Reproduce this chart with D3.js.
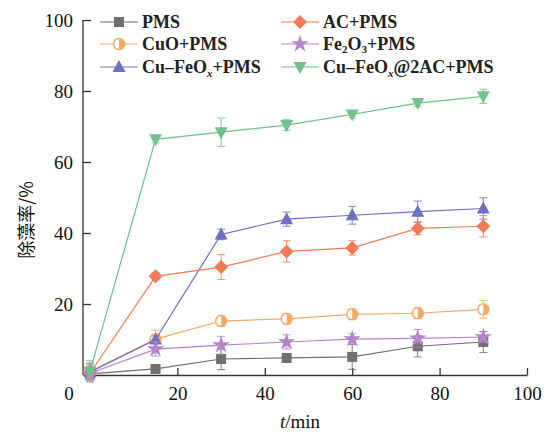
<!DOCTYPE html>
<html>
<head>
<meta charset="utf-8">
<script src="https://cdn.jsdelivr.net/npm/d3@7"></script>
<style>
  html, body { margin: 0; padding: 0; background: #fff; }
  svg { display: block; }
  .tick text { font-family: "Liberation Serif", "DejaVu Serif", serif; }
</style>
</head>
<body>
<svg id="chart" width="544" height="432"></svg>
<script>
// Sampling times (min)
const times = [0, 15, 30, 45, 60, 75, 90];

// Removal rate (%) for each system, with error bar half-widths
const pmsVals      = [0.3, 1.7, 4.5, 4.8, 5.1, 8.1, 9.3];
const pmsErr       = [1.5, 0.5, 3.0, 1.0, 3.5, 3.0, 3.0];
const acVals       = [0.5, 27.8, 30.4, 34.8, 35.8, 41.3, 41.9];
const acErr        = [1.5, 1.0, 3.5, 3.0, 2.0, 1.8, 3.0];
const cuoVals      = [1.0, 10.1, 15.2, 15.8, 17.1, 17.4, 18.5];
const cuoErr       = [2.0, 2.5, 1.5, 1.5, 1.5, 1.5, 2.5];
const fe2o3Vals    = [0.5, 7.3, 8.4, 9.3, 10.1, 10.3, 10.7];
const fe2o3Err     = [2.0, 2.0, 2.5, 2.0, 1.5, 2.5, 1.5];
const cufeVals     = [0.8, 10.0, 39.6, 43.9, 45.0, 46.0, 46.9];
const cufeErr      = [2.5, 1.0, 1.5, 2.0, 2.5, 3.0, 3.0];
const cufeAcVals   = [1.0, 66.4, 68.4, 70.4, 73.4, 76.6, 78.5];
const cufeAcErr    = [3.0, 1.0, 4.0, 1.5, 1.0, 1.0, 2.0];

const xTicks = [20, 40, 60, 80, 100];
const yTicks = [20, 40, 60, 80, 100];

const series = [
  { name: "PMS",            vals: pmsVals,    err: pmsErr,    color: "#6f6f72", marker: "square" },
  { name: "CuO+PMS",        vals: cuoVals,    err: cuoErr,    color: "#f6a962", marker: "halfcircle" },
  { name: "Cu–FeOx+PMS",    vals: cufeVals,   err: cufeErr,   color: "#6f6fc2", marker: "triangle-up" },
  { name: "AC+PMS",         vals: acVals,     err: acErr,     color: "#f27b55", marker: "diamond" },
  { name: "Fe2O3+PMS",      vals: fe2o3Vals,  err: fe2o3Err,  color: "#b584cc", marker: "star" },
  { name: "Cu–FeOx@2AC+PMS",vals: cufeAcVals, err: cufeAcErr, color: "#6fc18e", marker: "triangle-down" }
];

const svg = d3.select("#chart");
const serif = '"Liberation Serif", "DejaVu Serif", serif';

const x = d3.scaleLinear().domain([-1.6, 100]).range([83, 527]);
const y = d3.scaleLinear().domain([0, 100]).range([375, 20]);

// Axes with inward ticks
const xAxis = d3.axisBottom(x).tickValues(xTicks).tickSizeInner(-7).tickSizeOuter(0).tickPadding(12);
const yAxis = d3.axisLeft(y).tickValues(yTicks).tickSizeInner(-8).tickSizeOuter(0).tickPadding(10);

const gx = svg.append("g").attr("transform", "translate(0,375)").call(xAxis);
const gy = svg.append("g").attr("transform", "translate(83,0)").call(yAxis);
[gx, gy].forEach(g => {
  g.select(".domain").attr("stroke", "#333").attr("stroke-width", 1.3);
  g.selectAll(".tick line").attr("stroke", "#333").attr("stroke-width", 1.3);
  g.selectAll(".tick text").attr("fill", "#111").attr("font-size", 19);
});
// extend y axis line to top tick
gy.select(".domain").attr("d", `M0,${y(100)}V${y(0)}`);

// shared origin label
svg.append("text").attr("x", 69).attr("y", 400)
  .attr("text-anchor", "middle").attr("font-family", serif).attr("font-size", 19).attr("fill", "#111")
  .text("0");

// Axis titles
const xt = svg.append("text").attr("x", 300).attr("y", 428).attr("text-anchor", "middle")
  .attr("font-family", serif).attr("font-size", 19).attr("fill", "#111");
xt.append("tspan").attr("font-style", "italic").text("t");
xt.append("tspan").text("/min");

svg.append("text").attr("transform", "translate(33,220) rotate(-90)")
  .attr("text-anchor", "middle").attr("font-family", '"Noto Sans CJK SC", sans-serif')
  .attr("font-size", 18).attr("fill", "#111").text("除藻率/%");

// Marker drawing
const starPath = d3.symbol().type(d3.symbolStar).size(95)();
function drawMarker(g, type, color, cx, cy) {
  const m = g.append("g").attr("transform", `translate(${cx},${cy})`);
  if (type === "square") {
    m.append("rect").attr("x", -5).attr("y", -5).attr("width", 10).attr("height", 10).attr("fill", color);
  } else if (type === "diamond") {
    m.append("path").attr("d", "M0,-7L7,0L0,7L-7,0Z").attr("fill", color);
  } else if (type === "triangle-up") {
    m.append("path").attr("d", "M0,-7L6.5,5L-6.5,5Z").attr("fill", color);
  } else if (type === "triangle-down") {
    m.append("path").attr("d", "M0,7L6.5,-5L-6.5,-5Z").attr("fill", color);
  } else if (type === "star") {
    m.append("path").attr("d", starPath).attr("fill", color);
  } else if (type === "halfcircle") {
    m.append("circle").attr("r", 5.5).attr("fill", "#fff").attr("stroke", color).attr("stroke-width", 1.4);
    m.append("path").attr("d", "M0,-5.5A5.5,5.5 0 0 1 0,5.5Z").attr("fill", color);
  }
}

const line = d3.line().x((d, i) => x(times[i])).y(d => y(d));

// Draw series
const plot = svg.append("g");
series.forEach(s => {
  const g = plot.append("g");
  // error bars
  s.vals.forEach((v, i) => {
    const cx = x(times[i]);
    const e = s.err[i];
    g.append("line").attr("x1", cx).attr("x2", cx).attr("y1", y(v - e)).attr("y2", y(v + e))
      .attr("stroke", s.color).attr("stroke-width", 1).attr("opacity", 0.85);
    [v - e, v + e].forEach(ev => {
      g.append("line").attr("x1", cx - 4).attr("x2", cx + 4).attr("y1", y(ev)).attr("y2", y(ev))
        .attr("stroke", s.color).attr("stroke-width", 1).attr("opacity", 0.85);
    });
  });
  g.append("path").attr("d", line(s.vals)).attr("fill", "none")
    .attr("stroke", s.color).attr("stroke-width", 1.2);
  s.vals.forEach((v, i) => drawMarker(g, s.marker, s.color, x(times[i]), y(v)));
});

// Legend (two columns)
const legendPos = [
  { lx: 100, ty: 22 }, { lx: 100, ty: 44 }, { lx: 100, ty: 67 },
  { lx: 281, ty: 22 }, { lx: 281, ty: 44 }, { lx: 281, ty: 67 }
];
const lg = svg.append("g");
series.forEach((s, i) => {
  const p = legendPos[i];
  lg.append("line").attr("x1", p.lx).attr("x2", p.lx + 38).attr("y1", p.ty).attr("y2", p.ty)
    .attr("stroke", s.color).attr("stroke-width", 1.2);
  drawMarker(lg, s.marker, s.color, p.lx + 19, p.ty);
  const t = lg.append("text").attr("x", p.lx + 42).attr("y", p.ty + 6)
    .attr("font-family", serif).attr("font-weight", "bold").attr("font-size", 18).attr("fill", "#222");
  if (s.name === "Fe2O3+PMS") {
    t.append("tspan").text("Fe");
    t.append("tspan").attr("font-size", 11).attr("dy", 3).text("2");
    t.append("tspan").attr("dy", -3).text("O");
    t.append("tspan").attr("font-size", 11).attr("dy", 3).text("3");
    t.append("tspan").attr("dy", -3).text("+PMS");
  } else if (s.name.includes("FeOx")) {
    const [pre, post] = s.name.split("FeOx");
    t.append("tspan").text(pre + "FeO");
    t.append("tspan").attr("font-size", 11).attr("font-style", "italic").attr("dy", 4).text("x");
    t.append("tspan").attr("dy", -4).text(post);
  } else {
    t.text(s.name);
  }
});
</script>
</body>
</html>
